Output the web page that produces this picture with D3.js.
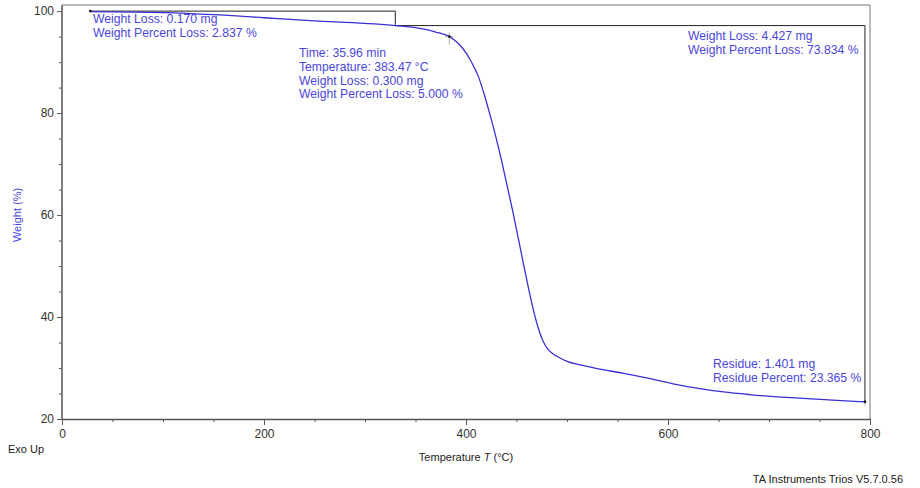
<!DOCTYPE html>
<html>
<head>
<meta charset="utf-8">
<script src="https://cdn.jsdelivr.net/npm/d3@7"></script>
<style>
  body { margin: 0; background: #fff; }
  svg { font-family: "Liberation Sans", Arial, sans-serif; }
</style>
</head>
<body>
<svg id="chart"></svg>
<script>
// TGA curve: temperature (°C) vs weight (%)
var temps   = [28, 100, 150, 200, 250, 300, 330, 360, 370, 383.5, 390, 395, 400, 404, 408, 412, 418, 424, 430, 436, 441, 446, 451, 456, 461, 466, 471, 476, 481, 486, 490, 500, 513, 530, 555, 580, 605, 630, 655, 680, 705, 730, 755, 780, 795];
var weights = [99.9, 99.7, 99.3, 98.7, 98.1, 97.6, 97.16, 96.4, 95.9, 95.0, 94.1, 93.1, 91.8, 90.5, 89.0, 87.3, 83.7, 79.5, 75.0, 70.0, 65.5, 61.0, 56.2, 51.3, 46.5, 42.0, 38.2, 35.4, 33.7, 32.8, 32.3, 31.3, 30.6, 29.9, 29.0, 28.0, 26.9, 26.0, 25.3, 24.8, 24.4, 24.1, 23.8, 23.5, 23.365];

var xTicks = [0, 200, 400, 600, 800];
var yTicks = [20, 40, 60, 80, 100];

// step analysis (start T, end T, start W, end W)
var stepT = [[28, 330], [330, 795]];
var stepW = [[100, 97.163], [97.163, 23.365]];
var onsetPoint = [383.47, 95.0];
var residuePoint = [795, 23.365];

var stepText1 = ['Weight Loss: 0.170 mg', 'Weight Percent Loss: 2.837 %'];
var onsetText = ['Time: 35.96 min', 'Temperature: 383.47 °C', 'Weight Loss: 0.300 mg', 'Weight Percent Loss: 5.000 %'];
var stepText2 = ['Weight Loss: 4.427 mg', 'Weight Percent Loss: 73.834 %'];
var residueText = ['Residue: 1.401 mg', 'Residue Percent: 23.365 %'];

var width = 920, height = 488;
var blue = '#3a2fd6';
var textBlue = '#4a46dc';

var svg = d3.select('#chart').attr('width', width).attr('height', height);

var x = d3.scaleLinear().domain([0, 800]).range([62, 870]);
var y = d3.scaleLinear().domain([20, 101.2]).range([419, 5]);

// frame (top + right)
svg.append('path')
  .attr('d', `M${x(0)},${y.range()[1]}H${x(800)}V${y(20)}`)
  .attr('fill', 'none').attr('stroke', '#777').attr('stroke-width', 1);

// axes
var xaxis = d3.axisBottom(x).tickValues(xTicks).tickSize(6).tickSizeOuter(0).tickPadding(4);
var xminor = d3.axisBottom(x).tickValues(d3.range(50, 800, 50).filter(d => d % 200 != 0)).tickSize(3).tickFormat('');
var yaxis = d3.axisLeft(y).tickValues(yTicks).tickSize(5).tickSizeOuter(0).tickPadding(3);
var yminor = d3.axisLeft(y).tickValues(d3.range(25, 101, 5).filter(d => d % 20 != 0)).tickSize(3).tickFormat('');

var gx = svg.append('g').attr('transform', `translate(0,${y(20)})`).call(xaxis);
svg.append('g').attr('transform', `translate(0,${y(20)})`).call(xminor).select('.domain').remove();
var gy = svg.append('g').attr('transform', `translate(${x(0)},0)`).call(yaxis);
svg.append('g').attr('transform', `translate(${x(0)},0)`).call(yminor).select('.domain').remove();

svg.selectAll('.domain').attr('stroke', '#555').attr('stroke-width', 1.5);
svg.selectAll('.tick line').attr('stroke', '#555');
svg.selectAll('.tick text').attr('font-size', 12).attr('fill', '#333')
  .attr('font-family', '"Liberation Sans", Arial, sans-serif');
gy.select('.domain').attr('d', `M0,${y.range()[1]}V${y(20)}`);

// step lines
var stepLine = d3.line().x(d => x(d[0])).y(d => y(d[1]));
stepT.forEach(function(t, i) {
  var w = stepW[i];
  svg.append('path')
    .attr('d', stepLine([[t[0], w[0]], [t[1], w[0]], [t[1], w[1]]]))
    .attr('fill', 'none').attr('stroke', '#222').attr('stroke-width', 1);
});

// curve
var line = d3.line().x((d, i) => x(d)).y((d, i) => y(weights[i])).curve(d3.curveMonotoneX);
svg.append('path').datum(temps)
  .attr('d', line)
  .attr('fill', 'none').attr('stroke', blue).attr('stroke-width', 1.3);

// onset marker
var ox = x(onsetPoint[0]), oy = y(onsetPoint[1]);
svg.append('path').attr('d', `M${ox - 4},${oy}H${ox + 4}M${ox},${oy - 4}V${oy + 8}`)
  .attr('stroke', '#999').attr('stroke-width', 0.8);
svg.append('circle').attr('cx', ox).attr('cy', oy).attr('r', 1.3).attr('fill', '#111');

// residue marker
var rx = x(residuePoint[0]), ry = y(residuePoint[1]);
svg.append('path').attr('d', `M${rx},${ry}V${ry + 4}`).attr('stroke', '#bbb');
svg.append('circle').attr('cx', rx).attr('cy', ry).attr('r', 1.3).attr('fill', '#111');
svg.append('circle').attr('cx', x(stepT[0][0])).attr('cy', y(100)).attr('r', 1.3).attr('fill', '#111');

// annotation text
function block(lines, px, py, anchor) {
  var t = svg.append('text').attr('x', px).attr('y', py)
    .attr('font-size', 12.2).attr('fill', textBlue).attr('text-anchor', anchor || 'start');
  lines.forEach(function(s, i) {
    t.append('tspan').attr('x', px).attr('dy', i == 0 ? 0 : 13.8).text(s);
  });
}
block(stepText1, 93, 23);
block(onsetText, 299, 57);
block(stepText2, 688, 40);
block(residueText, 713, 368);

// axis titles
svg.append('text').attr('transform', 'translate(21,215) rotate(-90)')
  .attr('text-anchor', 'middle').attr('font-size', 11).attr('fill', textBlue)
  .text('Weight  (%)');

var xt = svg.append('text').attr('x', 466).attr('y', 461)
  .attr('text-anchor', 'middle').attr('font-size', 11).attr('fill', '#222');
xt.append('tspan').text('Temperature  ');
xt.append('tspan').attr('font-style', 'italic').text('T');
xt.append('tspan').text('  (°C)');

svg.append('text').attr('x', 8).attr('y', 453).attr('font-size', 11).attr('fill', '#222').text('Exo Up');
svg.append('text').attr('x', 903).attr('y', 483).attr('text-anchor', 'end')
  .attr('font-size', 11).attr('fill', '#222').text('TA Instruments Trios V5.7.0.56');
</script>
</body>
</html>
